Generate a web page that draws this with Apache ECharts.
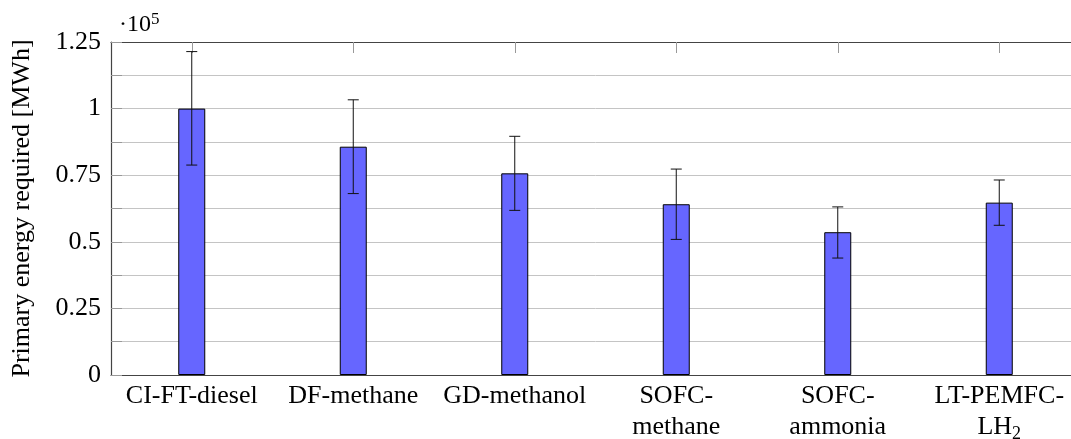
<!DOCTYPE html>
<html>
<head>
<meta charset="utf-8">
<script src="https://cdn.jsdelivr.net/npm/echarts@6/dist/echarts.min.js"></script>
<style>
html,body{margin:0;padding:0;background:#fff;overflow:hidden;width:1071px;height:439px;}
#c{width:1080px;height:439px;}
</style>
</head>
<body>
<div id="c"></div>
<script>
// Values in units of 10^5 MWh
const categories = ['CI-FT-diesel', 'DF-methane', 'GD-methanol', 'SOFC-\nmethane', 'SOFC-\nammonia', 'LT-PEMFC-\nLH2'];
const values = [1.000, 0.857, 0.757, 0.641, 0.536, 0.647];
const errUpper = [1.214, 1.033, 0.896, 0.773, 0.631, 0.732];
const errLower = [0.788, 0.681, 0.618, 0.509, 0.439, 0.562];
const yTicks = [0, 0.25, 0.5, 0.75, 1, 1.25];

const FONT = '"Liberation Serif", "DejaVu Serif", serif';
const chart = echarts.init(document.getElementById('c'), null, {renderer: 'canvas'});

const errData = categories.map((c, i) => [i, errLower[i], errUpper[i]]);

chart.setOption({
  animation: false,
  backgroundColor: '#fff',
  grid: {left: 111, right: 0, top: 42, bottom: 64, containLabel: false, outerBoundsMode: 'none'},
  xAxis: [{
    type: 'category',
    data: categories,
    position: 'bottom',
    axisLine: {show: true, lineStyle: {color: '#444', width: 1.2}},
    axisTick: {show: false},
    axisLabel: {
      fontFamily: FONT, fontSize: 26, color: '#000', margin: 6, lineHeight: 31,
      interval: 0,
      formatter: v => v.replace('LH2', 'LH{sub|2}'),
      rich: {sub: {fontFamily: FONT, fontSize: 18, verticalAlign: 'bottom', padding: [12, 0, 0, 0], lineHeight: 31}}
    },
    splitLine: {show: false}
  }, {
    type: 'category',
    data: categories,
    position: 'top',
    axisLine: {show: true, lineStyle: {color: '#444', width: 1.2}},
    axisTick: {show: true, inside: true, alignWithLabel: true, length: 11, lineStyle: {color: '#999', width: 1}},
    axisLabel: {show: false}
  }],
  yAxis: {
    type: 'value',
    min: 0, max: 1.25, interval: 0.25,
    name: 'Primary energy required [MWh]',
    nameLocation: 'middle',
    nameGap: 76,
    nameTextStyle: {fontFamily: FONT, fontSize: 26, color: '#000'},
    axisLine: {show: true, lineStyle: {color: '#444', width: 1.2}},
    axisTick: {show: true, inside: true, length: 11, lineStyle: {color: '#999'}},
    minorTick: {show: true, splitNumber: 2, length: 11, lineStyle: {color: '#999'}},
    axisLabel: {
      fontFamily: FONT, fontSize: 26, color: '#000', margin: 10,
      formatter: v => { const t = yTicks.find(x => Math.abs(x - v) < 1e-9); return t === undefined ? '' : String(t); }
    },
    splitLine: {show: true, lineStyle: {color: '#c4c4c4', width: 1}},
    minorSplitLine: {show: true, lineStyle: {color: '#c4c4c4', width: 1}}
  },
  series: [{
    type: 'bar',
    data: values,
    barWidth: 27,
    itemStyle: {color: '#6666ff', borderColor: '#000', borderWidth: 1},
    z: 3
  }, {
    type: 'custom',
    data: errData,
    z: 5,
    renderItem: (params, api) => {
      const x = api.value(0);
      const lo = api.coord([x, api.value(1)]);
      const hi = api.coord([x, api.value(2)]);
      const cap = 5.5;
      const st = {stroke: '#111', lineWidth: 1};
      return {type: 'group', children: [
        {type: 'line', shape: {x1: hi[0], y1: hi[1], x2: lo[0], y2: lo[1]}, style: st},
        {type: 'line', shape: {x1: hi[0] - cap, y1: hi[1], x2: hi[0] + cap, y2: hi[1]}, style: st},
        {type: 'line', shape: {x1: lo[0] - cap, y1: lo[1], x2: lo[0] + cap, y2: lo[1]}, style: st}
      ]};
    }
  }],
  graphic: [{
    type: 'text',
    left: 119, top: 11,
    style: {
      text: '·10{sup|5}',
      fontFamily: FONT, fontSize: 24, fill: '#000',
      rich: {sup: {fontFamily: FONT, fontSize: 17, verticalAlign: 'top', padding: [0, 0, 10, 0]}}
    }
  }]
});
</script>
</body>
</html>
